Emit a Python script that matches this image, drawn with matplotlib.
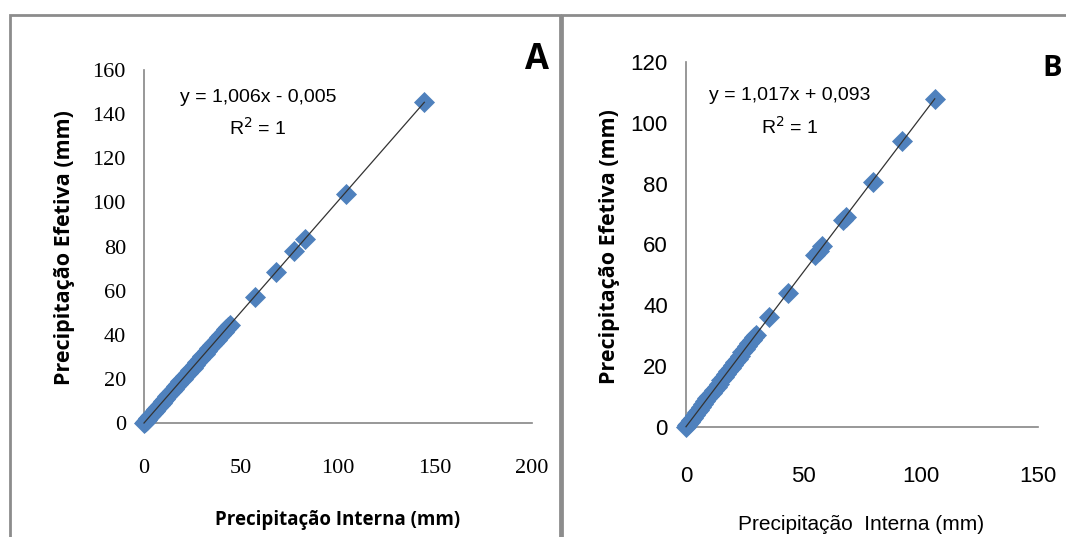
import numpy as np
import matplotlib.pyplot as plt
from matplotlib.patches import Rectangle

# panel A data (precipitação interna x efetiva)
a_x = [0, 0.4, 0.9, 1.5, 2.2, 3, 3.8, 4.6, 5.5, 6.4, 7.3, 8.2, 9.1, 10, 11, 12, 13, 14.2,
       15.3, 16.5, 17.6, 18.8, 20, 21.3, 22.5, 23.8, 25, 26.2, 27.5, 28.8, 30, 31.2,
       32.5, 33.7, 35, 36.2, 37.4, 38.6, 39.8, 41, 42.2, 43.3, 44.2,
       57, 68, 77.5, 83, 104, 144.5]
a_y = [0, 0.4, 0.9, 1.5, 2.2, 3, 3.8, 4.6, 5.5, 6.4, 7.3, 8.3, 9.2, 10.1, 11.1, 12.1, 13.1, 14.3,
       15.4, 16.6, 17.7, 18.9, 20.1, 21.4, 22.6, 23.9, 25.1, 26.4, 27.7, 29, 30.2, 31.4,
       32.7, 33.9, 35.2, 36.4, 37.6, 38.8, 40, 41.2, 42.4, 43.5, 44.5,
       57.3, 68.4, 78, 83.5, 103.6, 145.5]
a_coef = (1.006, -0.005)
a_eq = 'y = 1,006x - 0,005'

# panel B data
b_x = [0, 0.4, 0.9, 1.5, 2.2, 3, 3.8, 4.6, 5.5, 6.4, 7.3, 8.2, 9.1, 10, 11, 12, 13, 14,
       15, 16, 17, 18, 19, 20, 21, 22, 23, 24, 25, 26, 27, 28, 29, 29.8,
       35.5, 43.3, 54.8, 56.5, 58, 67, 68, 79.5, 92, 106]
b_y = [0.1, 0.5, 1, 1.6, 2.3, 3.1, 4, 4.8, 5.7, 6.6, 7.5, 8.4, 9.4, 10.3, 11.3, 12.3, 13.3, 14.3,
       15.4, 16.4, 17.4, 18.4, 19.4, 20.4, 21.5, 22.5, 23.5, 24.5, 25.5, 26.5, 27.6, 28.6, 29.6, 30.4,
       36.2, 44.2, 56.5, 58, 59.5, 68.2, 69.2, 80.7, 94, 107.8]
b_coef = (1.017, 0.093)
b_eq = 'y = 1,017x + 0,093'

W, H = 1066, 537
fig = plt.figure(figsize=(W / 100, H / 100), dpi=100)

# panel frames
fig.patches.append(Rectangle((10 / W, -0.05), 550 / W, 1.05 - 15 / H, transform=fig.transFigure,
                             fill=False, edgecolor='#8c8c8c', linewidth=2))
fig.patches.append(Rectangle((562 / W, -0.05), 520 / W, 1.05 - 15 / H, transform=fig.transFigure,
                             fill=False, edgecolor='#8c8c8c', linewidth=2))

blue = '#4F81BD'
gray = '#868686'
bold_font = ['Open Sans', 'DejaVu Sans']
narrow = ['Liberation Sans', 'DejaVu Sans']


def put(x, y, s, **kw):
    fig.text(x / W, 1 - y / H, s, ha='center', va='center', **kw)


def draw_panel(rect, xs, ys, coef, xmax, ymax, xstep, ystep, tick_font, tick_size, xpad):
    ax = fig.add_axes(rect)
    ax.scatter(xs, ys, marker='D', s=115, color=blue, zorder=3, linewidths=0, clip_on=False)
    lx = np.array([0, max(xs)])
    ax.plot(lx, coef[0] * lx + coef[1], color='#333333', lw=0.9, zorder=4, clip_on=False)
    ax.set_xlim(0, xmax)
    ax.set_ylim(0, ymax)
    ax.set_xticks(np.arange(0, xmax + 1, xstep))
    ax.set_yticks(np.arange(0, ymax + 1, ystep))
    for s in ['top', 'right']:
        ax.spines[s].set_visible(False)
    for s in ['left', 'bottom']:
        ax.spines[s].set_color(gray)
        ax.spines[s].set_linewidth(1.2)
    ax.tick_params(length=0)
    ax.tick_params(axis='y', pad=13)
    ax.tick_params(axis='x', pad=xpad)
    for t in ax.get_xticklabels() + ax.get_yticklabels():
        t.set_fontfamily(tick_font)
        t.set_fontsize(tick_size)
    return ax


# panel A
draw_panel([144 / W, (H - 423) / H, 388 / W, 353 / H], a_x, a_y, a_coef,
           200, 160, 50, 20, ['Liberation Serif'], 16, 26)
put(65, 248, 'Precipitação Efetiva (mm)', rotation=90, fontsize=15.5, fontweight='bold', family=bold_font)
put(338, 520, 'Precipitação Interna (mm)', fontsize=13.5, fontweight='bold', family=bold_font)
put(258, 97, a_eq, fontsize=14, family=narrow)
put(258, 128, 'R$^2$ = 1', fontsize=14, family=narrow)
put(537, 60, 'A', fontsize=25, fontweight='bold', family=bold_font)

# panel B
draw_panel([686 / W, (H - 427) / H, 352 / W, 365 / H], b_x, b_y, b_coef,
           150, 120, 50, 20, narrow, 16, 28)
put(609, 247, 'Precipitação Efetiva (mm)', rotation=90, fontsize=15.5, fontweight='bold', family=bold_font)
put(861, 524, 'Precipitação  Interna (mm)', fontsize=15, family=narrow)
put(790, 95, b_eq, fontsize=14, family=narrow)
put(790, 127, 'R$^2$ = 1', fontsize=14, family=narrow)
fig.text(1062 / W, 1 - 68 / H, 'B', ha='right', va='center', fontsize=21, fontweight='bold', family=bold_font)

fig.savefig('out.png', dpi=100)
